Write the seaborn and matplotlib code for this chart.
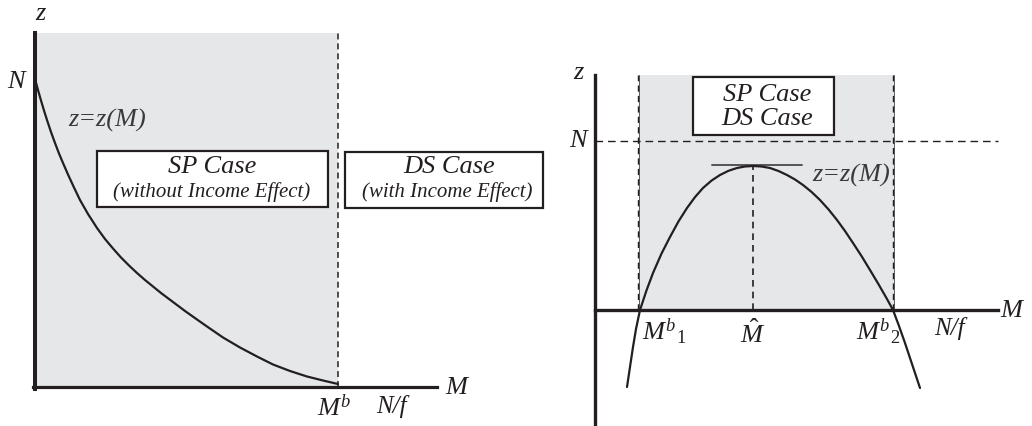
import matplotlib
matplotlib.use("Agg")
import matplotlib.pyplot as plt
from matplotlib.patches import Rectangle
import seaborn as sns

# left panel: decreasing z(M) (units ~ pixels from origin)
left_M = [0, 3, 6, 9, 12, 16, 20, 24, 28, 33, 39, 45, 53, 62, 70, 78, 86, 94,
          102, 110, 118, 126, 138, 150, 162, 172, 188, 205, 222, 238, 255, 272,
          288, 303]
left_z = [308, 297, 286.5, 276.5, 267, 255, 244, 233.5, 224, 212.5, 199.5, 187,
          173, 159, 148, 138.5, 129.5, 121.5, 114, 107, 100.5, 94, 85, 76, 67.5,
          60.5, 49.5, 39.5, 30.5, 22.5, 16, 10.5, 6.5, 3]
left_N = 308
left_Mb = 303
left_M_end = 402
left_z_top = 354

# right panel: hump-shaped z(M)
right_M = [32, 35, 38, 41, 45, 51.5, 58, 66.5, 75, 83.5, 92, 100, 108, 116.5,
           125, 133.5, 142, 150, 158, 166.5, 175, 183.5, 192, 200, 208, 216.5,
           225, 233.5, 242, 250, 258, 266.5, 275, 283.5, 292, 298, 304, 310, 316,
           321, 325]
right_z = [-77, -57, -37, -19, 0, 19.6, 37, 56.4, 73, 88.6, 102, 112.9, 122,
           129.4, 135, 139.2, 142, 143.5, 144, 143.5, 142, 139, 135, 130.5, 125,
           118.1, 110, 100.6, 90, 79, 67, 54, 40, 25.8, 11, 0, -16, -33, -51,
           -66, -78]
right_N = 169
right_Mb1 = 44
right_Mhat = 158
right_Mb2 = 299
right_z_peak = 144
right_M_end = 403
right_z_top = 235
right_z_bottom = -116

INK = "#231f20"
GRAY = "#e6e7e9"

sns.set_style("white")
plt.rcParams["font.family"] = ["Liberation Serif", "DejaVu Serif"]
plt.rcParams["mathtext.fontset"] = "custom"
plt.rcParams["mathtext.rm"] = "Liberation Serif"
plt.rcParams["mathtext.it"] = "Liberation Serif:italic"

fig = plt.figure(figsize=(10.32, 4.26), dpi=100)
axL = fig.add_axes([0, 0, 560 / 1032, 1])
axR = fig.add_axes([560 / 1032, 0, 472 / 1032, 1])
axL.set_xlim(-35, 525)
axL.set_ylim(-39, 387)
axR.set_xlim(-35, 437)
axR.set_ylim(-116, 310)


def setup_axes(ax, x_lo, x_hi, y_lo, y_hi, lw_y, lw_x):
    ax.set_facecolor("none")
    ax.set_xticks([])
    ax.set_yticks([])
    for s in ["top", "right"]:
        ax.spines[s].set_visible(False)
    ax.spines["left"].set_position(("data", 0))
    ax.spines["bottom"].set_position(("data", 0))
    ax.spines["left"].set_bounds(y_lo, y_hi)
    ax.spines["bottom"].set_bounds(x_lo, x_hi)
    ax.spines["left"].set_linewidth(lw_y)
    ax.spines["bottom"].set_linewidth(lw_x)
    for s in ["left", "bottom"]:
        ax.spines[s].set_color(INK)
        ax.spines[s].set_zorder(4)


def boxed(ax, x0, y0, w, h):
    ax.add_patch(Rectangle((x0, y0), w, h, facecolor="white", edgecolor=INK,
                           linewidth=1.6, zorder=5))


txt = dict(style="italic", color=INK, ha="center", va="center")

# ---- left panel ----
setup_axes(axL, -2, left_M_end, -2, left_z_top, 2.9, 2.3)
axL.add_patch(Rectangle((0, 0), left_Mb, left_z_top, facecolor=GRAY,
                        edgecolor="none", zorder=0))
axL.plot([left_Mb, left_Mb], [0, left_z_top], color=INK, lw=1.1,
         dashes=(3.9, 2.6), zorder=2)
sns.lineplot(x=left_M, y=left_z, ax=axL, color=INK, linewidth=1.6,
             estimator=None, sort=False, zorder=3)

axL.text(5, 373, "z", fontsize=19, **txt)
axL.text(-19, left_N - 3, "N", fontsize=19, **txt)
axL.text(33, 267, "z=z(M)", fontsize=19, style="italic", color="#3a3a3a",
         ha="left", va="center")

boxed(axL, 62, 180, 231, 56)
axL.text(177, 220, "SP Case", fontsize=19, zorder=6, **txt)
axL.text(177, 195, "(without Income Effect)", fontsize=15, zorder=6, **txt)
boxed(axL, 310, 179, 198, 56)
axL.text(414, 220, "DS Case", fontsize=19, zorder=6, **txt)
axL.text(412, 195, "(with Income Effect)", fontsize=15, zorder=6, **txt)

axL.text(299, -21, r"$M^{b}$", fontsize=19, **txt)
axL.text(356, -19, "N/f", fontsize=18, **txt)
axL.text(410, -1, "M", fontsize=19, style="italic", color=INK, ha="left",
         va="center")

# ---- right panel ----
setup_axes(axR, 0, right_M_end, right_z_bottom, right_z_top, 2.4, 2.4)
axR.add_patch(Rectangle((right_Mb1, 0), right_Mb2 - right_Mb1, right_z_top,
                        facecolor=GRAY, edgecolor="none", zorder=0))
for xv in [right_Mb1, right_Mb2]:
    axR.plot([xv, xv], [0, right_z_top], color="#444444", lw=0.6, zorder=1)
    axR.plot([xv - 1, xv - 1], [0, right_z_top], color=INK, lw=1.0,
             dashes=(4.5, 3.0), zorder=2)
axR.plot([0, right_M_end], [right_N, right_N], color=INK, lw=1.0,
         dashes=(5.5, 3.5), zorder=2)
axR.plot([right_Mhat, right_Mhat], [0, right_z_peak], color=INK, lw=1.2,
         dashes=(4.0, 3.0), zorder=2)
axR.plot([right_Mhat - 41, right_Mhat + 49], [right_z_peak + 1, right_z_peak + 1],
         color="#555555", lw=1.4, zorder=3)
sns.lineplot(x=right_M, y=right_z, ax=axR, color=INK, linewidth=1.6,
             estimator=None, sort=False, zorder=3)

axR.text(-17, 237, "z", fontsize=19, **txt)
axR.text(-17, right_N, "N", fontsize=19, **txt)
axR.text(405, -1, "M", fontsize=19, style="italic", color=INK, ha="left",
         va="center")
axR.text(217, 135, "z=z(M)", fontsize=19, style="italic", color="#3a3a3a",
         ha="left", va="center")

boxed(axR, 98, 175, 141, 58)
axR.text(172, 215, "SP Case", fontsize=19, zorder=6, **txt)
axR.text(172, 191, "DS Case", fontsize=19, zorder=6, **txt)

axR.text(47, -22, r"$M^{b}{}_{1}$", fontsize=19, style="italic", color=INK,
         ha="left", va="center")
axR.text(right_Mhat, -24, r"$\hat{M}$", fontsize=19, **txt)
axR.text(261, -22, r"$M^{b}{}_{2}$", fontsize=19, style="italic", color=INK,
         ha="left", va="center")
axR.text(355, -18, "N/f", fontsize=18, **txt)

fig.savefig("out.png", dpi=100)
